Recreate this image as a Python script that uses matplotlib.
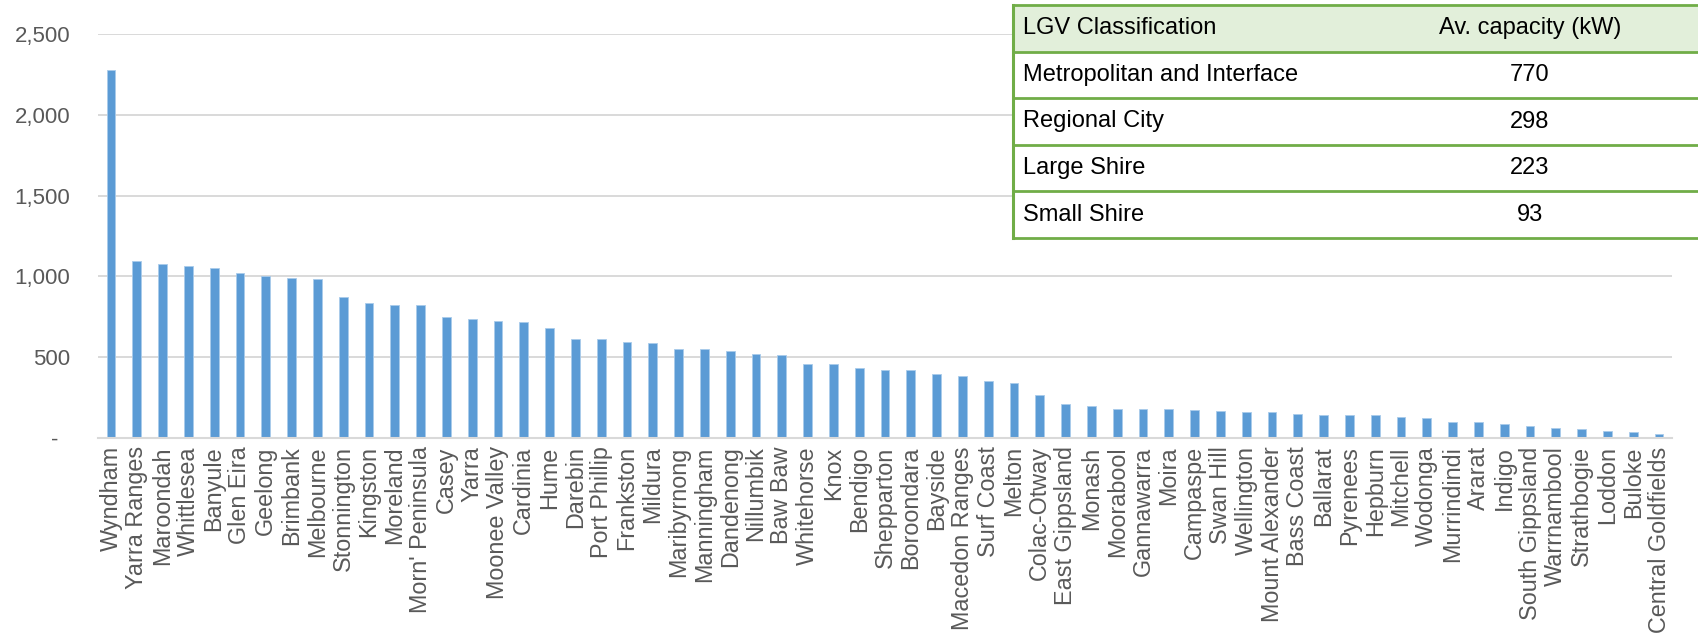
import matplotlib
matplotlib.use("Agg")
import matplotlib.pyplot as plt
import numpy as np
from matplotlib.patches import Rectangle

plt.rcParams['font.family'] = ['Liberation Sans', 'DejaVu Sans']

# Average system capacity by council (kW)
councils = [
    "Wyndham", "Yarra Ranges", "Maroondah", "Whittlesea", "Banyule", "Glen Eira",
    "Geelong", "Brimbank", "Melbourne", "Stonnington", "Kingston", "Moreland",
    "Morn' Peninsula", "Casey", "Yarra", "Moonee Valley", "Cardinia", "Hume",
    "Darebin", "Port Phillip", "Frankston", "Mildura", "Maribyrnong", "Manningham",
    "Dandenong", "Nillumbik", "Baw Baw", "Whitehorse", "Knox", "Bendigo",
    "Shepparton", "Boroondara", "Bayside", "Macedon Ranges", "Surf Coast", "Melton",
    "Colac-Otway", "East Gippsland", "Monash", "Moorabool", "Gannawarra", "Moira",
    "Campaspe", "Swan Hill", "Wellington", "Mount Alexander", "Bass Coast", "Ballarat",
    "Pyrenees", "Hepburn", "Mitchell", "Wodonga", "Murrindindi", "Ararat",
    "Indigo", "South Gippsland", "Warrnambool", "Strathbogie", "Loddon", "Buloke",
    "Central Goldfields",
]
capacity = [
    2275, 1097, 1076, 1064, 1051, 1020,
    1000, 991, 983, 875, 836, 824,
    823, 750, 739, 727, 719, 682,
    613, 611, 597, 590, 552, 548,
    537, 517, 512, 458, 458, 435,
    423, 421, 396, 383, 354, 342,
    269, 213, 198, 180, 178, 178,
    171, 164, 160, 158, 151, 145,
    145, 143, 128, 124, 100, 96,
    85, 77, 62, 55, 43, 36,
    26,
]
yticks = [0, 500, 1000, 1500, 2000, 2500]

# Summary table
lgv_classes = ["Metropolitan and Interface", "Regional City", "Large Shire", "Small Shire"]
lgv_avg = [770, 298, 223, 93]
table_header = ["LGV Classification", "Av. capacity (kW)"]

W, H = 1698, 634
fig = plt.figure(figsize=(W / 100, H / 100), dpi=100)
ax = fig.add_axes([98 / W, (H - 438) / H, 1574 / W, (438 - 34) / H])

x = np.arange(len(councils))
ax.bar(x, capacity, width=0.34, color='#5B9BD5', edgecolor='#A9CBEB',
       linewidth=0.6, zorder=2)

ax.set_xlim(-0.5, len(councils) - 0.5)
ax.set_ylim(0, 2500)
ax.set_yticks(yticks)
ax.set_yticklabels([f"{v:,}" if v else "-  " for v in yticks])
ax.set_xticks(x)
ax.set_xticklabels(councils, rotation=90)

ax.tick_params(axis='y', length=0, pad=20, labelsize=16, labelcolor='#595959')
ax.tick_params(axis='x', length=0, pad=6, labelsize=16.8, labelcolor='#595959')
ax.grid(axis='y', color='#D9D9D9', linewidth=1.4, zorder=0)
for s in ['top', 'right', 'left']:
    ax.spines[s].set_visible(False)
ax.spines['bottom'].set_color('#D9D9D9')
ax.spines['bottom'].set_linewidth(1.5)

# table as an inset drawn in pixel units
tl, tt, tb = 1013, 5, 238
tax = fig.add_axes([tl / W, (H - tb) / H, (W + 5 - tl) / W, (tb - tt) / H])
tw, th = W + 5 - tl, tb - tt
tax.set_xlim(0, tw)
tax.set_ylim(th, 0)
tax.axis('off')
row_h = th / (len(lgv_classes) + 1)
green = '#70AD47'
tax.add_patch(Rectangle((0, 0), tw, th, facecolor='white', edgecolor='none'))
tax.add_patch(Rectangle((0, 0), tw, row_h, facecolor='#E2EFDA', edgecolor='none'))
for i in range(len(lgv_classes) + 2):
    tax.plot([0, tw], [i * row_h, i * row_h], color=green, lw=2, clip_on=False)
tax.plot([0, 0], [0, th], color=green, lw=2.2, clip_on=False)

col1, col2 = 10, 517
tax.text(col1, row_h / 2, table_header[0], fontsize=17, va='center', ha='left')
tax.text(col2, row_h / 2, table_header[1], fontsize=17, va='center', ha='center')
for i, (name, val) in enumerate(zip(lgv_classes, lgv_avg)):
    yc = (i + 1.5) * row_h
    tax.text(col1, yc, name, fontsize=17, va='center', ha='left')
    tax.text(col2, yc, str(val), fontsize=17, va='center', ha='center')

fig.savefig('out.png', dpi=100)
